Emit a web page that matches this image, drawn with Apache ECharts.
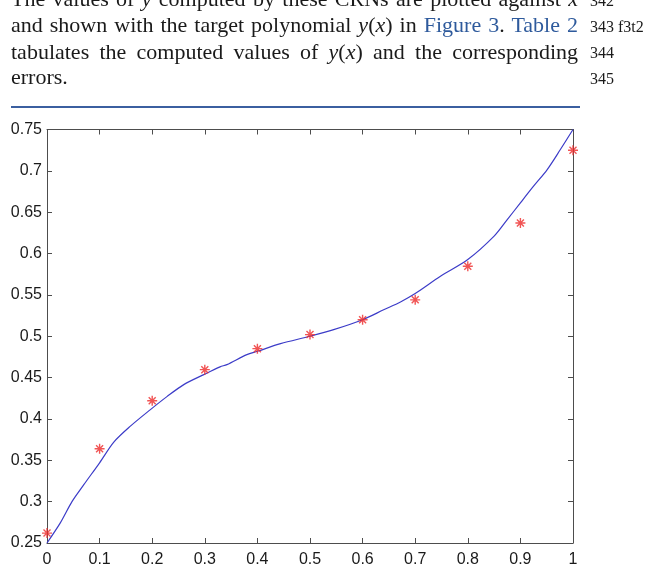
<!DOCTYPE html>
<html>
<head>
<meta charset="utf-8">
<script src="https://cdn.jsdelivr.net/npm/echarts@6/dist/echarts.min.js"></script>
<style>
  html, body { margin: 0; padding: 0; background: #fff; }
  body { width: 653px; height: 574px; position: relative; overflow: hidden; }
  #chart { position: absolute; left: 0; top: 0; width: 653px; height: 574px; }
  .ln { position: absolute; left: 11px; width: 567px; font-family: "Liberation Serif", serif;
        font-size: 22px; line-height: 26px; color: #1a1a1a; white-space: nowrap; }
  .just { text-align: justify; text-align-last: justify; white-space: normal; }
  .ref { color: #2e5a9c; }
  .num { position: absolute; left: 590px; font-family: "Liberation Serif", serif;
         font-size: 16px; line-height: 26px; color: #1a1a1a; white-space: nowrap; }
  #rule { position: absolute; left: 11px; top: 106px; width: 569px; height: 2px; background: #3b5fa0; }
</style>
</head>
<body>
<div id="chart"></div>
<div class="ln just" style="top:-14px">The values of <i>y</i> computed by these CRNs are plotted against <i>x</i></div>
<div class="ln just" style="top:12px">and shown with the target polynomial <i>y</i>(<i>x</i>) in <span class="ref">Figure 3</span>. <span class="ref">Table 2</span></div>
<div class="ln just" style="top:39px">tabulates the computed values of <i>y</i>(<i>x</i>) and the corresponding</div>
<div class="ln" style="top:64px">errors.</div>
<div class="num" style="top:-12px">342</div>
<div class="num" style="top:14px">343 f3t2</div>
<div class="num" style="top:40px">344</div>
<div class="num" style="top:66px">345</div>
<div id="rule"></div>
<script>
// ===== 数据 =====
// 目标多项式曲线
const curveX = [0, 0.025, 0.0475, 0.07, 0.1, 0.127, 0.158, 0.196, 0.228, 0.26, 0.298, 0.329,
                0.342, 0.38, 0.4, 0.444, 0.5, 0.545, 0.6, 0.64, 0.672, 0.7, 0.748, 0.8,
                0.85, 0.875, 0.9, 0.925, 0.951, 0.976, 1];
const curveY = [0.25, 0.274, 0.300, 0.3205, 0.347, 0.372, 0.391, 0.411, 0.427, 0.4415, 0.4536, 0.463,
                0.4657, 0.4778, 0.4818, 0.491, 0.500, 0.508, 0.520, 0.532, 0.5415, 0.5516, 0.5725, 0.5927,
                0.621, 0.641, 0.6613, 0.6814, 0.7016, 0.7258, 0.75];
// CRN 计算值（红色星号）
const crnX = [0, 0.1, 0.2, 0.3, 0.4, 0.5, 0.6, 0.7, 0.8, 0.9, 1];
const crnY = [0.262, 0.364, 0.422, 0.4596, 0.485, 0.502, 0.520, 0.544, 0.5846, 0.637, 0.725];
// 坐标轴范围
const xRange = [0, 1, 0.1];
const yRange = [0.25, 0.75, 0.05];

const axisColor = '#4d4d4d';
const fmt = v => String(+v.toFixed(2));
const asterisk = 'path://M5,0L5,10M0,5L10,5M1.5,1.5L8.5,8.5M1.5,8.5L8.5,1.5';

function makeAxis(type, pos, range, showLabel) {
    return {
        type: 'value',
        position: pos,
        min: range[0],
        max: range[1],
        interval: range[2],
        axisLine: { show: true, onZero: false, lineStyle: { color: axisColor, width: 1 } },
        axisTick: { show: true, inside: true, length: 5, lineStyle: { color: axisColor } },
        splitLine: { show: false },
        axisLabel: {
            show: showLabel,
            formatter: fmt,
            fontFamily: 'Liberation Sans, Arial, sans-serif',
            fontSize: 16,
            color: '#1a1a1a',
            margin: type === 'x' ? 9 : 5,
        },
    };
}

const chart = echarts.init(document.getElementById('chart'));
chart.setOption({
    animation: false,
    backgroundColor: 'transparent',
    grid: { left: 47, top: 129.5, right: 80, bottom: 31, containLabel: false },
    xAxis: [makeAxis('x', 'bottom', xRange, true), makeAxis('x', 'top', xRange, false)],
    yAxis: [makeAxis('y', 'left', yRange, true), makeAxis('y', 'right', yRange, false)],
    series: [
        {
            type: 'line',
            data: curveX.map((x, i) => [x, curveY[i]]),
            showSymbol: false,
            smooth: 0.3,
            lineStyle: { color: '#3c3cc8', width: 1.2 },
            z: 2,
        },
        {
            type: 'scatter',
            data: crnX.map((x, i) => [x, crnY[i]]),
            symbol: asterisk,
            symbolSize: 10,
            clip: false,
            itemStyle: { color: 'none', borderColor: '#ee2a2a', borderWidth: 1.4 },
            z: 3,
        },
    ],
});
</script>
</body>
</html>
